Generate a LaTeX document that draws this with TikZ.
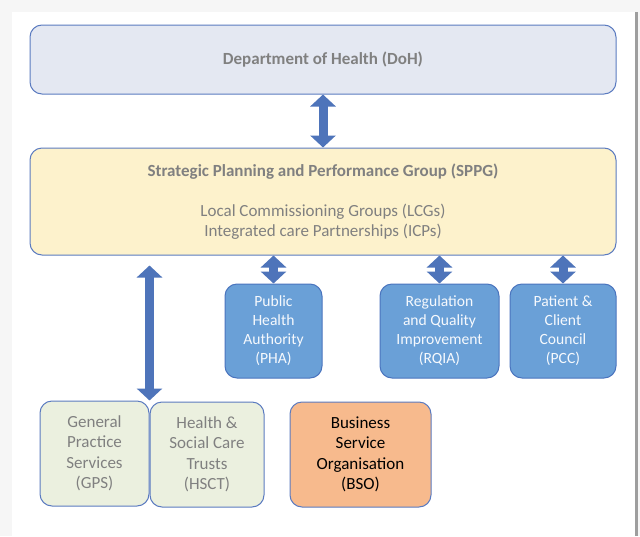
\documentclass[tikz,border=0pt]{standalone}
\usepackage{fontspec}
\setmainfont{Carlito}
\usepackage{tikz}
\usetikzlibrary{arrows.meta}
\definecolor{frame}{HTML}{F6F6F6}
\definecolor{edgeblue}{HTML}{5B7BC0}
\definecolor{arrowblue}{HTML}{4E74BA}
\definecolor{dohfill}{HTML}{E4E8F2}
\definecolor{sppgfill}{HTML}{FDF2CC}
\definecolor{midfill}{HTML}{6AA0D7}
\definecolor{midedge}{HTML}{4A74BE}
\definecolor{greenfill}{HTML}{EBF0DF}
\definecolor{bsofill}{HTML}{F7BA8D}
\definecolor{greytext}{HTML}{808080}
\tikzstyle{every node}=[inner sep=0pt, align=center]
\tikzset{box/.style={draw=edgeblue, line width=1pt, rounded corners=12pt},
  topbox/.style={box, text=greytext, font=\fontsize{17}{20}\selectfont},
  midbox/.style={box, draw=midedge, fill=midfill, text=white!94!midfill, minimum height=94pt, font=\fontsize{15.6}{19}\selectfont},
  lowbox/.style={box, minimum height=105pt, font=\fontsize{17}{20.5}\selectfont},
  dblarrow/.style={draw=arrowblue, line width=9pt, {Triangle[width=25pt,length=12pt]}-{Triangle[width=25pt,length=12pt]}}}

\begin{document}
\begin{tikzpicture}[x=1pt, y=-1pt]
		\useasboundingbox (0,0) rectangle (640,536);
		% page
		\fill[frame] (0,0) rectangle (640,536);
		\fill[white] (12,12) rectangle (635,536);
		\fill[black!38] (635,12) rectangle (638,536);
		% top level
		\node[topbox, fill=dohfill, minimum width=586pt, minimum height=69pt] (doh) at (323,59.5) {\textbf{Department of Health (DoH)}};
		\node[topbox, fill=sppgfill, minimum width=586pt, minimum height=107pt] (sppg) at (323,201.5)
			{\textbf{Strategic Planning and Performance Group (SPPG)}\\[20pt]Local Commissioning Groups (LCGs)\\Integrated care Partnerships (ICPs)};
		% arm's length bodies
		\node[midbox, minimum width=97pt] (pha) at (273.5,331) {Public\\Health\\Authority\\(PHA)};
		\node[midbox, minimum width=119pt] (rqia) at (439.5,331) {Regulation\\and Quality\\Improvement\\(RQIA)};
		\node[midbox, minimum width=106pt] (pcc) at (563,331) {Patient \&\\Client\\Council\\(PCC)};
		% providers
		\node[lowbox, fill=greenfill, text=greytext, minimum width=109pt] (gps) at (94.5,453.5) {General\\Practice\\Services\\(GPS)};
		\node[lowbox, fill=greenfill, text=greytext, minimum width=114pt] (hsct) at (207,454.5) {Health \&\\Social Care\\Trusts\\(HSCT)};
		\node[lowbox, fill=bsofill, text=black, minimum width=141pt] (bso) at (360.5,454.5) {Business\\Service\\Organisation\\(BSO)};
		\coordinate (gptop) at ([yshift=-10pt]sppg.south -| gps.north east);
		% links
		\draw[dblarrow] (doh.south) to (sppg.north);
		\draw[dblarrow] (gptop) to (gps.north east);
		\draw[dblarrow] (sppg.south -| pha.north) to (pha.north);
		\draw[dblarrow] (sppg.south -| rqia.north) to (rqia.north);
		\draw[dblarrow] (sppg.south -| pcc.north) to (pcc.north);
		\end{tikzpicture}
\end{document}
